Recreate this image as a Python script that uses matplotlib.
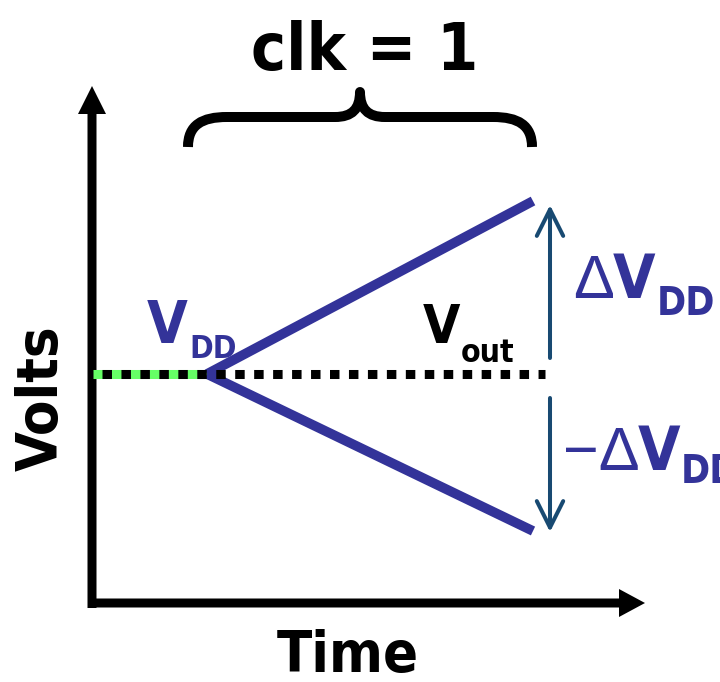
import matplotlib
matplotlib.use("Agg")
import matplotlib.pyplot as plt
from matplotlib import font_manager as fm
from matplotlib.patches import FancyArrowPatch, PathPatch
from matplotlib.path import Path

# diagram units: 1 unit = 1 px, origin at the corner of the axes
t_axis_end = 553
v_axis_end = 517

t_precharge = [0.7, 114.7]      # green V_DD segment
t_vout = [10.2, 453]            # dotted V_out level
v_dd = 229

t_ramp = [115, 441]
v_up = [229, 402]
v_down = [229, 72]

t_delta = 458
v_delta_up = [245, 398]
v_delta_down = [205, 71]

# brace over the clk = 1 interval
brace_t = [96, 96, 110, 135, 243, 260, 268, 268, 268, 276, 293, 401, 426, 440, 440]
brace_v = [456, 478, 486, 486, 486, 486, 494, 511, 494, 486, 486, 486, 486, 478, 456]

blue = "#333399"
teal = "#184a72"
green = "#66ff66"

# pick a narrow bold face if there is one, otherwise Arial-like and a bit smaller
fonts = fm.fontManager.ttflist
names = {f.name for f in fonts}
stretch = "normal"
k = 1.0
if "Liberation Sans Narrow" in names:
    narrow = "Liberation Sans Narrow"
elif any(f.name == "DejaVu Sans" and f.stretch == "condensed" for f in fonts):
    narrow = "DejaVu Sans"
    stretch = "condensed"
    k = 0.88
else:
    narrow = "Liberation Sans"
    k = 0.85
plain = ["Liberation Sans", "DejaVu Sans"]

fig = plt.figure(figsize=(7.2, 6.82), dpi=100)
ax = fig.add_axes([0, 0, 1, 1])
ax.set_xlim(-92, 628)
ax.set_ylim(-79, 603)
ax.axis("off")
renderer = fig.canvas.get_renderer()


def label(x, y, s, size, color="black", **kw):
    return ax.text(x, y, s, fontsize=size * k, fontweight="bold", family=narrow,
                   fontstretch=stretch, color=color, va="baseline", **kw)


def right_of(t):
    bb = t.get_window_extent(renderer)
    return ax.transData.inverted().transform((bb.x1, bb.y0))[0]


# axes arrows
ax.arrow(0, -5, 0, v_axis_end + 5, width=9, head_width=28, head_length=28,
         length_includes_head=True, color="black", lw=0)
ax.arrow(-4, 0, t_axis_end + 4, 0, width=9, head_width=28, head_length=26,
         length_includes_head=True, color="black", lw=0)

# V_DD precharge, the two ramps and the dotted V_out level
ax.plot(t_precharge, [v_dd, v_dd], color=green, lw=6.5, solid_capstyle="butt", zorder=2)
ax.plot(t_ramp, v_up, color=blue, lw=7, solid_capstyle="butt", zorder=3)
ax.plot(t_ramp, v_down, color=blue, lw=7, solid_capstyle="butt", zorder=3)
ax.plot(t_vout, [v_dd, v_dd], color="black", lw=6.5, dashes=(1.05, 1.05),
        dash_capstyle="butt", zorder=4)

# delta arrows
for vv in (v_delta_up, v_delta_down):
    ax.add_patch(FancyArrowPatch((t_delta, vv[0]), (t_delta, vv[1]),
                                 arrowstyle="->,head_length=19,head_width=9.5",
                                 mutation_scale=1, lw=2.9, color=teal,
                                 shrinkA=0, shrinkB=0, capstyle="round",
                                 joinstyle="round"))

# brace
codes = [Path.MOVETO, Path.CURVE4, Path.CURVE4, Path.CURVE4, Path.LINETO,
         Path.CURVE4, Path.CURVE4, Path.CURVE4,
         Path.CURVE4, Path.CURVE4, Path.CURVE4, Path.LINETO,
         Path.CURVE4, Path.CURVE4, Path.CURVE4]
brace = Path(list(zip(brace_t, brace_v)), codes)
ax.add_patch(PathPatch(brace, fill=False, lw=7.2, color="black",
                       capstyle="butt", joinstyle="round"))

# labels
label(273, 533, "clk = 1", 54, ha="center")
label(-50, 205, "Volts", 47, ha="center").set(va="center", rotation=90)
label(256, -69, "Time", 47, ha="center")

v = label(55, 260, "V", 48, blue)
label(right_of(v) + 1, 245, "DD", 26, blue)

v = label(331, 260, "V", 44)
label(right_of(v), 241, "out", 26)

d = ax.text(481, 305, "\u0394", fontsize=44, family=plain, color=blue, va="baseline")
v = label(right_of(d) - 1, 305, "V", 50, blue)
label(right_of(v) + 1, 288, "DD", 32, blue)

d = ax.text(471, 133, "\u2212\u0394", fontsize=44, family=plain, color=blue, va="baseline")
v = label(right_of(d) - 2, 133, "V", 50, blue)
label(right_of(v) + 1, 120, "DD", 32, blue)

fig.savefig("out.png", dpi=100)
